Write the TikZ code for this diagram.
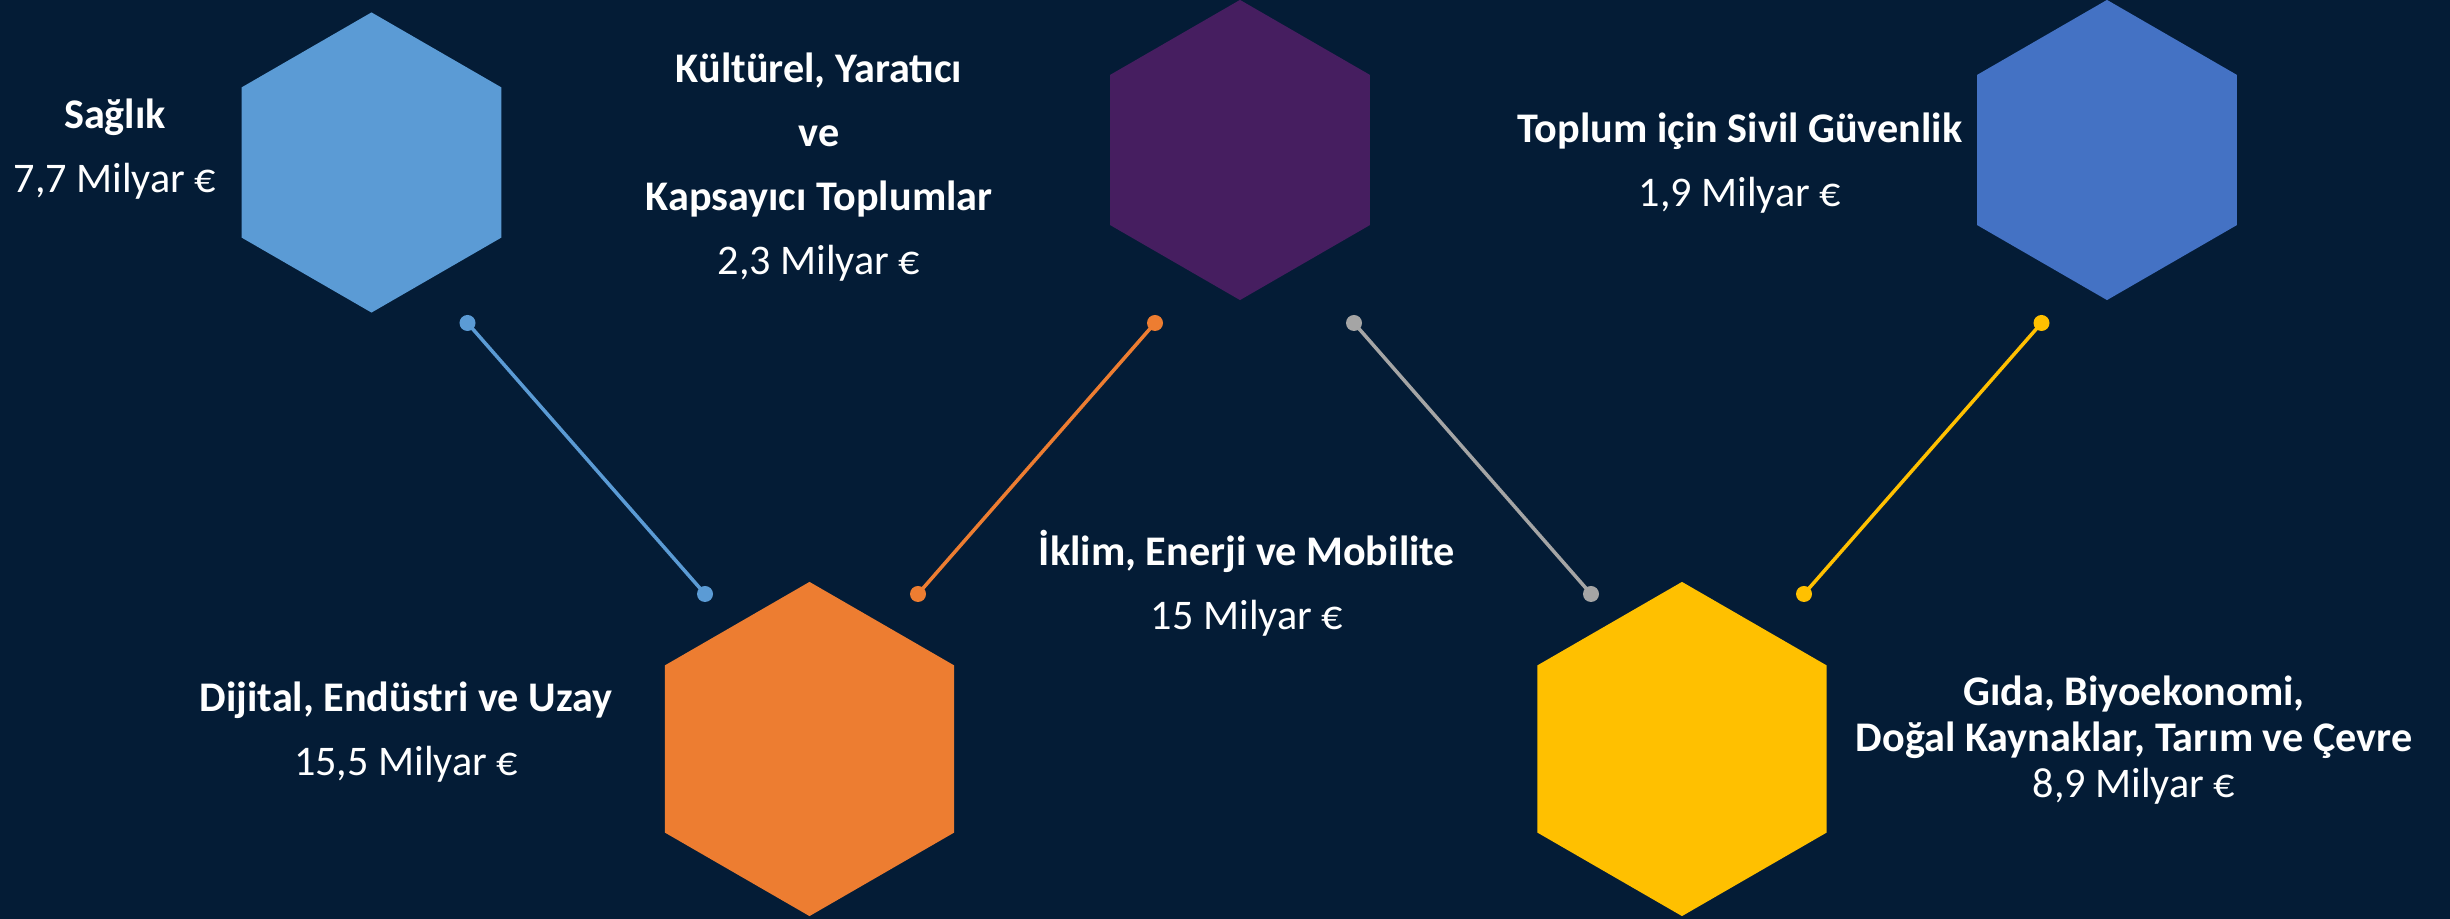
\documentclass[tikz,border=0pt]{standalone}
\usepackage{fontspec}
\setmainfont{Carlito}
\usetikzlibrary{shapes.geometric}

\definecolor{zemin}{HTML}{041C36}
\definecolor{saglikrenk}{HTML}{5B9BD5}
\definecolor{kulturrenk}{HTML}{461E60}
\definecolor{toplumrenk}{HTML}{4472C4}
\definecolor{dijitalrenk}{HTML}{ED7D31}
\definecolor{gidarenk}{HTML}{FFC000}
\definecolor{iklimrenk}{HTML}{A5A5A5}

\begin{document}
\begin{tikzpicture}[
    x=0.01cm, y=-0.01cm,
    % Altıgen: sivri uç yukarıda, kenarsız
    altigen/.style={regular polygon, regular polygon sides=6, shape border rotate=30,
        inner sep=0pt, outer sep=0pt, minimum size=3cm, fill=#1},
    buyukaltigen/.style={altigen=#1, minimum size=3.34cm},
    % Bağlantı uçlarındaki noktalar
    nokta/.style={circle, inner sep=0pt, minimum size=0.16cm, fill=#1},
    baglanti/.style={line width=1pt, draw=#1},
    % Yazılar: beyaz, ortalı (konum = son satırın taban çizgisi)
    metin/.style={text=white, align=center, anchor=base, inner sep=0pt,
        font=\fontsize{12pt}{13.1pt}\selectfont}
]

    % Zemin
    \useasboundingbox (0,0) rectangle (2450,919);
    \fill[zemin] (0,0) rectangle (2450,919);

    % Üst sıra altıgenler
    \node[altigen=saglikrenk] (saglik) at (371.5,162.5) {};
    \node[altigen=kulturrenk] (kultur) at (1240,150) {};
    \node[altigen=toplumrenk] (toplum) at (2107,150) {};

    % Alt sıra altıgenler
    \node[buyukaltigen=dijitalrenk] (dijital) at (809.5,749) {};
    \node[buyukaltigen=gidarenk] (gida) at (1682,749) {};

    % Noktalar
    \node[nokta=saglikrenk] (n1) at (467.5,323) {};
    \node[nokta=saglikrenk] (n2) at (705,594) {};
    \node[nokta=dijitalrenk] (n3) at (1155,323) {};
    \node[nokta=dijitalrenk] (n4) at (918,594) {};
    \node[nokta=iklimrenk] (n5) at (1354,323) {};
    \node[nokta=iklimrenk] (n6) at (1591,594) {};
    \node[nokta=gidarenk] (n7) at (2041.5,323) {};
    \node[nokta=gidarenk] (n8) at (1804,594) {};

    % Bağlantılar
    \draw[baglanti=saglikrenk] (n1.center) -- (n2.center);
    \draw[baglanti=dijitalrenk] (n3.center) -- (n4.center);
    \draw[baglanti=iklimrenk] (n5.center) -- (n6.center);
    \draw[baglanti=gidarenk] (n7.center) -- (n8.center);

    % Yazılar
    \node[metin] (saglik-metin) at (115,193)
        {\textbf{Sağlık}\\[5.1pt] 7,7 Milyar €};
    \node[metin] (kultur-metin) at (819,275)
        {\textbf{Kültürel, Yaratıcı}\\[5.1pt] \textbf{ve}\\[5.1pt]
         \textbf{Kapsayıcı Toplumlar}\\[5.1pt] 2,3 Milyar €};
    \node[metin] (toplum-metin) at (1740,207)
        {\textbf{Toplum için Sivil Güvenlik}\\[5.1pt] 1,9 Milyar €};
    \node[metin] (dijital-metin) at (406,776)
        {\textbf{Dijital, Endüstri ve Uzay}\\[5.1pt] 15,5 Milyar €};
    \node[metin] (iklim-metin) at (1247,630)
        {\textbf{İklim, Enerji ve Mobilite}\\[5.1pt] 15 Milyar €};
    \node[metin] (gida-metin) at (2134,798)
        {\textbf{Gıda, Biyoekonomi,}\\ \textbf{Doğal Kaynaklar, Tarım ve Çevre}\\ 8,9 Milyar €};

\end{tikzpicture}
\end{document}
